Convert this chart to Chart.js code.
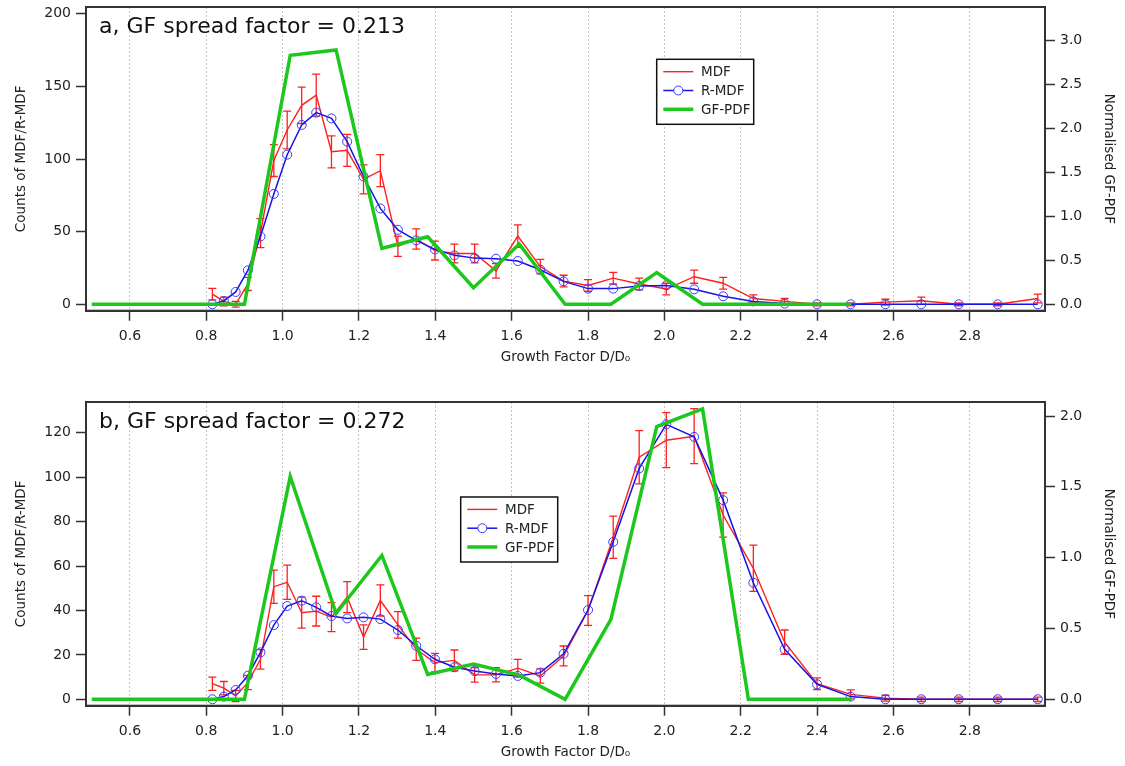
<!DOCTYPE html>
<html>
<head>
<meta charset="utf-8">
<script src="https://cdn.jsdelivr.net/npm/chart.js@4.4.1/dist/chart.umd.min.js"></script>
<style>
  body { margin: 0; background: #fff; }
  .panel { position: absolute; left: 0; width: 1125px; height: 371px; }
</style>
</head>
<body>
<div class="panel" style="top:0"><canvas id="chartA" width="1125" height="371"></canvas></div>
<div class="panel" style="top:395px"><canvas id="chartB" width="1125" height="371"></canvas></div>
<script>
// growth factor bins (shared by MDF / R-MDF)
const growthFactor = [0.816, 0.846, 0.877, 0.909, 0.942, 0.977, 1.012, 1.050, 1.088, 1.128, 1.169, 1.212, 1.256,
  1.302, 1.350, 1.399, 1.450, 1.503, 1.559, 1.616, 1.675, 1.736, 1.800, 1.866, 1.934, 2.005, 2.078, 2.154,
  2.233, 2.315, 2.400, 2.488, 2.579, 2.673, 2.771, 2.873, 2.978];
// GF-PDF nodes
const gfpdfX = [0.5, 0.9, 1.02, 1.14, 1.26, 1.38, 1.50, 1.62, 1.74, 1.86, 1.98, 2.10, 2.22, 2.34, 2.49];

// panel a
const mdfA = [7, 2, 0, 14, 49, 99, 120, 137, 144, 105, 106, 86, 92, 40, 45, 37, 35, 35, 23, 47, 26, 16, 13, 18,
  14, 10.5, 19, 14.5, 4, 2, 0, 0, 1.5, 2.5, 0, 0, 4];
const mdfErrA = [4, 3, 2, 4.5, 10, 11, 13, 12.5, 14.5, 11, 11, 10, 11, 7, 7, 6.5, 6.5, 6.5, 5, 7.7, 5, 4, 4, 4,
  4, 4, 4.5, 4, 2.5, 2, 1, 1, 2, 2.5, 1, 1, 3];
const rmdfA = [0, 2.3, 8.5, 23.4, 46.7, 76, 103, 123.5, 132, 128, 112, 88, 66, 51.3, 44, 37.8, 33.7, 31.8, 31.4,
  29.8, 23.8, 15.8, 10.8, 10.8, 12.6, 13, 10.3, 5.5, 2, 0.5, 0, 0, 0, 0, 0, 0, 0];
const gfpdfA = [0, 0, 2.83, 2.89, 0.636, 0.767, 0.188, 0.684, 0, 0, 0.359, 0, 0, 0, 0];

// panel b
const mdfB = [7, 5, 1.5, 7.5, 18, 50.7, 52.7, 39, 39.7, 37, 46, 28, 44.5, 33.5, 22.5, 16.5, 17.5, 11, 11, 14,
  10.5, 19.5, 40, 73, 109, 116.7, 118.5, 83, 59, 25.7, 7, 2.2, 0.5, 0, 0, 0, 0];
const mdfErrB = [3, 3, 2.5, 3.2, 4.4, 7.5, 7.7, 7, 6.7, 6.5, 7, 5.5, 7, 6, 5, 4.2, 4.7, 3.3, 3.2, 4, 3.2, 4.5,
  6.7, 9.5, 12, 12.4, 12.4, 10, 10.4, 5.5, 2.6, 2, 1.3, 1, 1, 1, 1];
const rmdfB = [0, 1.2, 4.2, 10.6, 21.1, 33.4, 42, 44.4, 41.4, 37.5, 36.4, 36.9, 36.1, 31.2, 24.1, 18, 14.4, 12.7,
  11.4, 10.5, 12, 20.5, 40.2, 70.9, 104, 123.8, 118.2, 89.7, 52.5, 22.5, 6.75, 1.2, 0, 0, 0, 0, 0];
const gfpdfB = [0, 0, 1.573, 0.606, 1.016, 0.176, 0.249, 0.171, 0, 0.565, 1.925, 2.05, 0, 0, 0];

// tick labels
const xTicks = [0.6, 0.8, 1.0, 1.2, 1.4, 1.6, 1.8, 2.0, 2.2, 2.4, 2.6, 2.8];
const countTicksA = [0, 50, 100, 150, 200];
const pdfTicksA = [0, 0.5, 1.0, 1.5, 2.0, 2.5, 3.0];
const countTicksB = [0, 20, 40, 60, 80, 100, 120];
const pdfTicksB = [0, 0.5, 1.0, 1.5, 2.0];

const FONT = 'DejaVu Sans';
const INK = '#222';
const RED = '#ff1f1f';
const BLUE = '#1414e6';
const GREEN = '#1cc81c';

const pts = (xs, ys) => xs.map((x, i) => ({ x: x, y: ys[i] }));

// fixed axis sizes, no label overflow padding (the frame sits where the reference has it)
function fixSize(prop, size) {
    return s => {
        s[prop] = size;
        s.paddingTop = 0; s.paddingBottom = 0;
        s.paddingLeft = 0; s.paddingRight = 0;
    };
}

// frame, panel title, error bars and in-plot legend
const panelDecor = {
    id: 'panelDecor',
    afterDatasetDraw(chart, args) {
        const ds = chart.data.datasets[args.index];
        if (!ds.errors) return;
        const ctx = chart.ctx;
        const xs = chart.scales.x, ys = chart.scales[ds.yAxisID];
        const a = chart.chartArea;
        ctx.save();
        ctx.beginPath();
        ctx.rect(a.left, a.top, a.right - a.left, a.bottom - a.top);
        ctx.clip();
        ctx.strokeStyle = ds.borderColor;
        ctx.lineWidth = 1.3;
        ds.data.forEach((p, i) => {
            const e = ds.errors[i];
            const px = xs.getPixelForValue(p.x);
            const y1 = ys.getPixelForValue(p.y + e);
            const y2 = ys.getPixelForValue(p.y - e);
            ctx.beginPath();
            ctx.moveTo(px, y1); ctx.lineTo(px, y2);
            ctx.moveTo(px - 4, y1); ctx.lineTo(px + 4, y1);
            ctx.moveTo(px - 4, y2); ctx.lineTo(px + 4, y2);
            ctx.stroke();
        });
        ctx.restore();
    },
    afterDraw(chart, args, opts) {
        const ctx = chart.ctx;
        const a = chart.chartArea;
        ctx.save();
        // frame
        ctx.strokeStyle = '#333';
        ctx.lineWidth = 2;
        ctx.strokeRect(a.left, a.top, a.right - a.left, a.bottom - a.top);
        // panel title
        ctx.fillStyle = '#111';
        ctx.font = '22px "' + FONT + '"';
        ctx.textBaseline = 'alphabetic';
        ctx.textAlign = 'left';
        ctx.fillText(opts.title, a.left + 13, a.top + 26);
        // legend box
        const bx = a.left + opts.legendAt[0], by = a.top + opts.legendAt[1];
        ctx.fillStyle = '#fff';
        ctx.fillRect(bx, by, 97, 65);
        ctx.strokeStyle = '#111';
        ctx.lineWidth = 1.5;
        ctx.strokeRect(bx, by, 97, 65);
        ctx.font = '13.5px "' + FONT + '"';
        ctx.textBaseline = 'middle';
        const rows = [chart.data.datasets[2], chart.data.datasets[1], chart.data.datasets[0]];
        rows.forEach((ds, i) => {
            const ry = by + 12.4 + i * 18.8;
            ctx.strokeStyle = ds.borderColor;
            ctx.lineWidth = ds.borderWidth;
            ctx.beginPath();
            ctx.moveTo(bx + 6.6, ry); ctx.lineTo(bx + 36.6, ry);
            ctx.stroke();
            if (ds.pointRadius > 0) {
                ctx.strokeStyle = ds.pointBorderColor;
                ctx.lineWidth = ds.pointBorderWidth;
                ctx.fillStyle = '#fff';
                ctx.beginPath();
                ctx.arc(bx + 21.6, ry, ds.pointRadius, 0, Math.PI * 2);
                ctx.fill();
                ctx.stroke();
            }
            ctx.fillStyle = INK;
            ctx.fillText(ds.label, bx + 44.3, ry + 1);
        });
        ctx.restore();
    }
};

function makeChart(id, mdf, mdfErr, rmdf, gfpdf, countRange, pdfRange, countTicks, pdfTicks, title, legendAt) {
    const tickFont = { family: FONT, size: 14 };
    const titleFont = { family: FONT, size: 13.5 };
    return new Chart(document.getElementById(id), {
        type: 'line',
        data: {
            datasets: [
                {
                    label: 'GF-PDF',
                    data: pts(gfpdfX, gfpdf),
                    yAxisID: 'y2',
                    borderColor: GREEN,
                    borderWidth: 3.5,
                    pointRadius: 0,
                    tension: 0,
                    order: 0
                },
                {
                    label: 'R-MDF',
                    data: pts(growthFactor, rmdf),
                    yAxisID: 'y',
                    borderColor: BLUE,
                    borderWidth: 1.5,
                    pointRadius: 4.5,
                    pointBorderColor: '#3a3aff',
                    pointBackgroundColor: 'rgba(0,0,0,0)',
                    pointBorderWidth: 1,
                    tension: 0,
                    order: 1
                },
                {
                    label: 'MDF',
                    data: pts(growthFactor, mdf),
                    errors: mdfErr,
                    yAxisID: 'y',
                    borderColor: RED,
                    borderWidth: 1.4,
                    pointRadius: 0,
                    tension: 0,
                    order: 2
                }
            ]
        },
        options: {
            responsive: false,
            animation: false,
            events: [],
            layout: { autoPadding: false, padding: { top: 7, left: 0, right: 0, bottom: 0 } },
            plugins: {
                legend: { display: false },
                tooltip: { enabled: false },
                panelDecor: { title: title, legendAt: legendAt }
            },
            scales: {
                x: {
                    type: 'linear',
                    position: 'bottom',
                    min: 0.485,
                    max: 2.997,
                    afterBuildTicks: s => { s.ticks = xTicks.map(v => ({ value: v })); },
                    afterFit: fixSize('height', 60.3),
                    ticks: { font: tickFont, color: INK, padding: 7, callback: v => v.toFixed(1) },
                    grid: { color: '#c4c4c4', lineWidth: 1, tickLength: 10, tickColor: '#333', tickWidth: 1.5, tickBorderDash: [] },
                    border: { color: '#333', width: 2, dash: [2, 2] },
                    title: { display: true, text: 'Growth Factor D/D\u2080', font: titleFont, color: INK, padding: { top: 0, bottom: 5 } }
                },
                y: {
                    position: 'left',
                    min: countRange[0],
                    max: countRange[1],
                    afterBuildTicks: s => { s.ticks = countTicks.map(v => ({ value: v })); },
                    afterFit: fixSize('width', 86),
                    ticks: { font: tickFont, color: INK, padding: 5 },
                    grid: { drawOnChartArea: false, tickLength: 10, tickColor: '#333', tickWidth: 1.5 },
                    border: { color: '#333', width: 2 },
                    title: { display: true, text: 'Counts of MDF/R-MDF', font: titleFont, color: INK, padding: { top: 13, bottom: 0 } }
                },
                y2: {
                    position: 'right',
                    min: pdfRange[0],
                    max: pdfRange[1],
                    afterBuildTicks: s => { s.ticks = pdfTicks.map(v => ({ value: v })); },
                    afterFit: fixSize('width', 80),
                    ticks: { font: tickFont, color: INK, padding: 5, callback: v => v.toFixed(1) },
                    grid: { drawOnChartArea: false, tickLength: 10, tickColor: '#333', tickWidth: 1.5 },
                    border: { color: '#333', width: 2 },
                    title: { display: true, text: 'Normalised GF-PDF', font: titleFont, color: INK, padding: { top: 8, bottom: 0 } }
                }
            }
        },
        plugins: [panelDecor]
    });
}

makeChart('chartA', mdfA, mdfErrA, rmdfA, gfpdfA, [-4.4, 204.7], [-0.073, 3.378], countTicksA, pdfTicksA,
    'a, GF spread factor = 0.213', [570.7, 52.3]);
makeChart('chartB', mdfB, mdfErrB, rmdfB, gfpdfB, [-2.9, 133.9], [-0.045, 2.099], countTicksB, pdfTicksB,
    'b, GF spread factor = 0.272', [374.7, 95]);
</script>
</body>
</html>
